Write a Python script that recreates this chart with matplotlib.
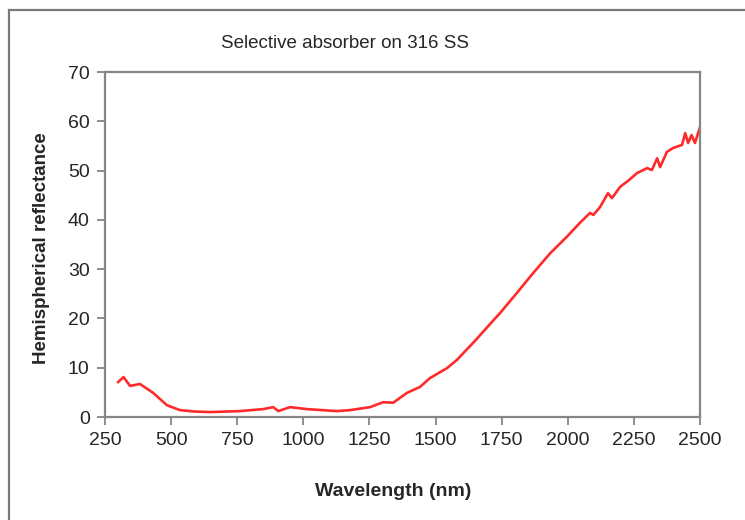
import matplotlib.pyplot as plt
from matplotlib.patches import Rectangle

plt.rcParams['font.family'] = ['Liberation Sans', 'DejaVu Sans']

# Hemispherical reflectance spectrum of the absorber coating
wavelength = [300, 320, 345, 382, 432, 484, 533, 590, 647, 705, 761, 848, 886,
              905, 950, 1014, 1070, 1127, 1177, 1252, 1302, 1340, 1392, 1441,
              1479, 1543, 1581, 1650, 1700, 1744, 1808, 1869, 1933, 1997, 2046,
              2084, 2097, 2122, 2152, 2167, 2198, 2230, 2262, 2285, 2300, 2318,
              2338, 2349, 2375, 2399, 2432, 2444, 2455, 2468, 2481, 2500]
reflectance = [7.1, 8.1, 6.3, 6.7, 4.9, 2.4, 1.4, 1.1, 1.0, 1.1, 1.2, 1.6, 2.0,
               1.2, 2.0, 1.6, 1.4, 1.2, 1.4, 2.0, 3.0, 2.9, 4.9, 6.1,
               7.9, 9.9, 11.6, 15.5, 18.5, 21.1, 25.2, 29.2, 33.2, 36.6, 39.4,
               41.4, 41.0, 42.6, 45.4, 44.4, 46.7, 48.0, 49.5, 50.1, 50.5, 50.1,
               52.5, 50.7, 53.8, 54.6, 55.2, 57.6, 55.6, 57.2, 55.6, 58.8]

x_ticks = [250, 500, 750, 1000, 1250, 1500, 1750, 2000, 2250, 2500]
y_ticks = [0, 10, 20, 30, 40, 50, 60, 70]

fig = plt.figure(figsize=(7.45, 5.2), dpi=100)
ax = fig.add_axes([105 / 745, 1 - 417 / 520, 595 / 745, 345 / 520])

ax.plot(wavelength, reflectance, color='#ff2a2a', lw=1.9)

ax.set_xlim(250, 2500)
ax.set_ylim(0, 70)
ax.set_xticks(x_ticks)
ax.set_yticks(y_ticks)

for side in ['left', 'right', 'top', 'bottom']:
    ax.spines[side].set_color('#858585')
    ax.spines[side].set_linewidth(1.6)
ax.tick_params(axis='both', direction='out', length=6, width=1.3,
               color='#858585', labelsize=14, labelcolor='#262626', pad=5)

# title sits left of the axes centre
fig.text(345 / 745, 1 - 43 / 520, 'Selective absorber on 316 SS', fontsize=13.5,
         color='#262626', ha='center', va='center')
fig.text(393 / 745, 1 - 492 / 520, 'Wavelength (nm)', fontsize=14, fontweight='bold',
         color='#262626', ha='center', va='center')
fig.text(42 / 745, 1 - 248 / 520, 'Hemispherical reflectance', fontsize=13.5,
         fontweight='bold', color='#262626', ha='center', va='center', rotation=90)

# outer frame around the chart area
fig.add_artist(Rectangle((9 / 745, -0.2), 1.5, 1.2 - 10 / 520,
                         transform=fig.transFigure, fill=False,
                         edgecolor='#7a7a7a', lw=1.6))

fig.savefig('out.png', dpi=100)
